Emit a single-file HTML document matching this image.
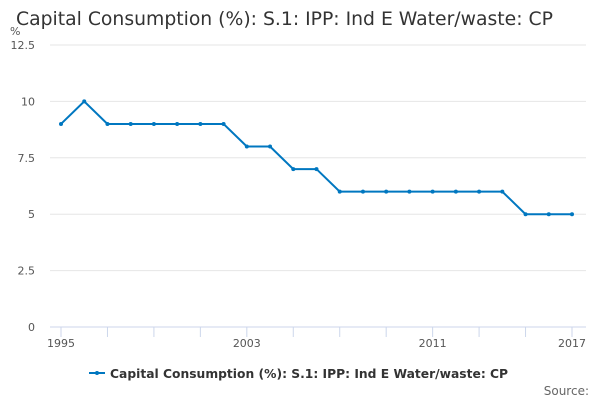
<!DOCTYPE html>
<html><head><meta charset="utf-8"><style>
body{margin:0;background:#fff;font-family:"Liberation Sans","DejaVu Sans",sans-serif}
svg text{font-family:"DejaVu Sans","Liberation Sans",sans-serif}
</style></head><body>
<svg width="600" height="400" xmlns="http://www.w3.org/2000/svg" id="chart">
<text x="16" y="25" font-size="18.8" fill="#333">Capital Consumption (%): S.1: IPP: Ind E Water/waste: CP</text>
<text x="10" y="35" font-size="11" fill="#555">%</text>
<g id="grid"></g><g id="xaxis"></g><g id="series"></g>
<g>
<line x1="89" y1="373" x2="105" y2="373" stroke="#0077c0" stroke-width="2"/>
<circle cx="97" cy="373" r="2" fill="#0077c0"/>
<text x="110" y="378" font-size="12.3" font-weight="bold" fill="#333">Capital Consumption (%): S.1: IPP: Ind E Water/waste: CP</text>
</g>
<text x="589" y="395" font-size="12" fill="#666" text-anchor="end">Source:</text>
</svg>
<script>
const years=[1995,1996,1997,1998,1999,2000,2001,2002,2003,2004,2005,2006,2007,2008,2009,2010,2011,2012,2013,2014,2015,2016,2017];
const values=[9,10,9,9,9,9,9,9,8,8,7,7,6,6,6,6,6,6,6,6,5,5,5];
const yTicks=[0,2.5,5,7.5,10,12.5];
const yTickLabels=["0","2.5","5","7.5","10","12.5"];
const xTickLabels=[1995,2003,2011,2017];
const NS="http://www.w3.org/2000/svg";
function x(v){return 61+(v-1995)*(572-61)/22;}
function y(v){return 327-v*(327-45)/12.5;}
function mk(t,a,p){const e=document.createElementNS(NS,t);for(const k in a)e.setAttribute(k,a[k]);p.appendChild(e);return e;}
const g=document.getElementById('grid'),xa=document.getElementById('xaxis'),s=document.getElementById('series');
yTicks.forEach((t,i)=>{
 const l=mk('line',{x1:50,x2:586,y1:y(t),y2:y(t),stroke:i==0?'#ccd6eb':'#e6e6e6','stroke-width':1},g);
 
 
 const tx=mk('text',{x:35,y:y(t)+4,'font-size':11,fill:'#555','text-anchor':'end'},g);tx.textContent=yTickLabels[i];
 
 
});
for(let yr=1995;yr<=2017;yr+=2){
 const l=mk('line',{x1:x(yr),x2:x(yr),y1:327,y2:337,stroke:'#ccd6eb'},xa);
 
 
}
xTickLabels.forEach(yr=>{
 const t=mk('text',{x:x(yr),y:347,'font-size':11,fill:'#555','text-anchor':'middle'},xa);t.textContent=yr;
 
 
});
const p=mk('polyline',{points:years.map((yr,i)=>x(yr)+','+y(values[i])).join(' '),fill:'none',stroke:'#0077c0','stroke-width':2},s);


years.forEach((yr,i)=>{
 const c=mk('circle',{cx:x(yr),cy:y(values[i]),r:2,fill:'#0077c0'},s);
 
 
});
</script>
</body></html>
